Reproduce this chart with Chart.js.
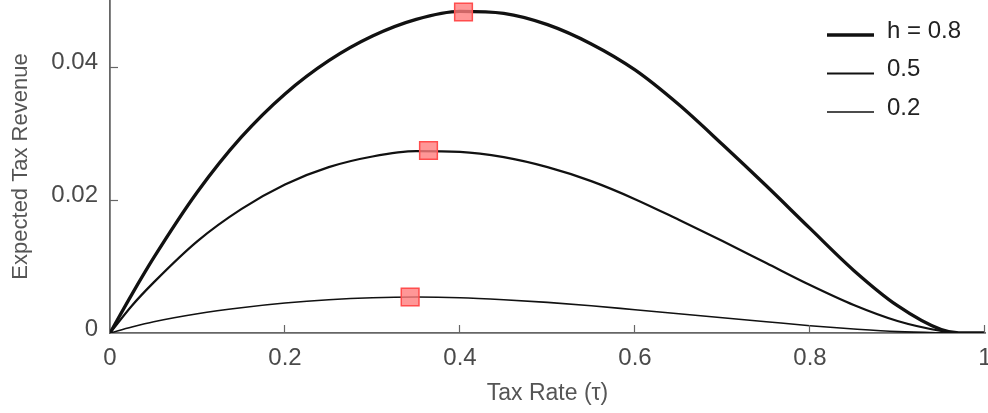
<!DOCTYPE html>
<html>
<head>
<meta charset="utf-8">
<script src="https://cdn.jsdelivr.net/npm/chart.js@4"></script>
<style>
  html, body { margin: 0; padding: 0; background: #fff; }
  #wrap { width: 988px; height: 413px; position: relative; }
</style>
</head>
<body>
<div id="wrap"><canvas id="revChart"></canvas></div>
<script>

// tax rate samples
let tau = [0, 0.025, 0.05, 0.1, 0.15, 0.2, 0.25, 0.3, 0.35, 0.4, 0.45, 0.5, 0.55, 0.6, 0.65, 0.7, 0.75, 0.8, 0.85, 0.9, 0.95, 0.97, 1];

// expected revenue
let revH08 = [0, 0.0058, 0.0113, 0.0212, 0.0294, 0.0359, 0.0409, 0.0446, 0.0471, 0.0483, 0.0480, 0.0463, 0.0434, 0.0395, 0.0343, 0.0283, 0.0221, 0.0157, 0.0094, 0.0041, 0.0005, 0, 0];
let revH05 = [0, 0.0041, 0.0076, 0.0138, 0.0186, 0.0223, 0.0249, 0.0265, 0.0273, 0.0272, 0.0264, 0.0249, 0.0228, 0.0201, 0.0170, 0.0138, 0.0105, 0.0072, 0.0042, 0.0018, 0.0003, 0, 0];
let revH02 = [0, 0.0009, 0.0017, 0.0029, 0.0038, 0.0045, 0.0050, 0.0053, 0.0054, 0.0053, 0.0050, 0.0046, 0.0041, 0.0035, 0.0029, 0.0023, 0.0017, 0.0011, 0.0006, 0.0002, 0.00003, 0, 0];

// revenue-maximising points
let peakTau = [0.404, 0.364, 0.343];
let peakRev = [0.0482, 0.0274, 0.0054];

let seriesLabels = ["h = 0.8", "0.5", "0.2"];
let xTicks = [0, 0.2, 0.4, 0.6, 0.8, 1];
let yTicks = [0, 0.02, 0.04];

let axisGrey = "#666";
let textGrey = "#4a4a4a";
let fontFam = "'Liberation Sans', Arial, Helvetica, sans-serif";

function toPoints(xs, ys){
    return xs.map((x, i) => ({ x: x, y: ys[i] }));
}


// small ticks pointing into the plot
const inwardTicks = {
    id: "inwardTicks",
    afterDatasetsDraw(chart){
        let ctx = chart.ctx;
        let xs = chart.scales.x;
        let ys = chart.scales.y;
        let area = chart.chartArea;
        ctx.save();
        ctx.strokeStyle = axisGrey;
        ctx.lineWidth = 1.2;
        xTicks.forEach(v => {
            if (v === 0) return;
            let px = Math.round(xs.getPixelForValue(v)) - 0.5;
            ctx.beginPath();
            ctx.moveTo(px, area.bottom);
            ctx.lineTo(px, area.bottom - 8);
            ctx.stroke();
        });
        yTicks.forEach(v => {
            if (v === 0) return;
            let py = Math.round(ys.getPixelForValue(v)) + 0.5;
            ctx.beginPath();
            ctx.moveTo(area.left, py);
            ctx.lineTo(area.left + 8, py);
            ctx.stroke();
        });
        ctx.restore();
    }
};


// legend with line samples of each width
const lineLegend = {
    id: "lineLegend",
    afterDraw(chart){
        let ctx = chart.ctx;
        ctx.save();
        ctx.font = "24px " + fontFam;
        ctx.fillStyle = "#222";
        ctx.textBaseline = "middle";
        chart.data.datasets.forEach((ds, i) => {
            if (ds.isPeak) return;
            let rowY = 31 + i * 38.5;
            ctx.strokeStyle = ds.borderColor;
            ctx.lineWidth = ds.borderWidth;
            ctx.beginPath();
            ctx.moveTo(827, rowY + 4);
            ctx.lineTo(874, rowY + 4);
            ctx.stroke();
            ctx.fillText(ds.label, 887, rowY);
        });
        ctx.restore();
    }
};


function lineSet(label, ys, width){
    return {
        label: label,
        data: toPoints(tau, ys),
        borderColor: "#111",
        borderWidth: width,
        pointRadius: 0,
        fill: false,
        cubicInterpolationMode: "monotone",
        order: 1
    };
}


new Chart(document.getElementById("revChart"), {
    type: "line",
    data: {
        datasets: [
            lineSet(seriesLabels[0], revH08, 3.3),
            lineSet(seriesLabels[1], revH05, 2.2),
            lineSet(seriesLabels[2], revH02, 1.6),
            {
                label: "peak",
                isPeak: true,
                data: toPoints(peakTau, peakRev),
                showLine: false,
                pointStyle: "rect",
                pointRadius: 12.5,
                backgroundColor: "rgba(255, 125, 125, 0.8)",
                borderColor: "#ff4d4d",
                borderWidth: 1.5,
                order: -1
            }
        ]
    },
    options: {
        responsive: true,
        maintainAspectRatio: false,
        animation: false,
        layout: {
            autoPadding: false,
            padding: { top: 0, right: 3, bottom: 0, left: 0 }
        },
        plugins: {
            legend: { display: false },
            tooltip: { enabled: false }
        },
        scales: {
            x: {
                type: "linear",
                min: 0,
                max: 1,
                afterBuildTicks: s => { s.ticks = xTicks.map(v => ({ value: v })); },
                afterFit: s => { s.height = 80; s.paddingLeft = 0; s.paddingRight = 0; },
                grid: { drawOnChartArea: false, drawTicks: false },
                border: { color: axisGrey, width: 1.8 },
                ticks: {
                    padding: 11,
                    color: textGrey,
                    font: { size: 24, family: fontFam },
                    callback: v => String(v)
                },
                title: {
                    display: true,
                    text: "Tax Rate (τ)",
                    color: "#555",
                    font: { size: 23, family: fontFam },
                    padding: { top: 0, bottom: 6 }
                }
            },
            y: {
                min: 0,
                max: 0.05,
                afterBuildTicks: s => { s.ticks = yTicks.map(v => ({ value: v })); },
                afterFit: s => { s.width = 110; s.paddingTop = 0; s.paddingBottom = 0; },
                grid: { drawOnChartArea: false, drawTicks: false },
                border: { color: axisGrey, width: 1.8 },
                ticks: {
                    padding: 12,
                    labelOffset: -4,
                    color: textGrey,
                    font: { size: 24, family: fontFam },
                    callback: v => String(v)
                },
                title: {
                    display: true,
                    text: "Expected Tax Revenue",
                    color: "#555",
                    font: { size: 22, family: fontFam },
                    padding: { top: 8, bottom: 0 }
                }
            }
        }
    },
    plugins: [inwardTicks, lineLegend]
});

</script>
</body>
</html>
